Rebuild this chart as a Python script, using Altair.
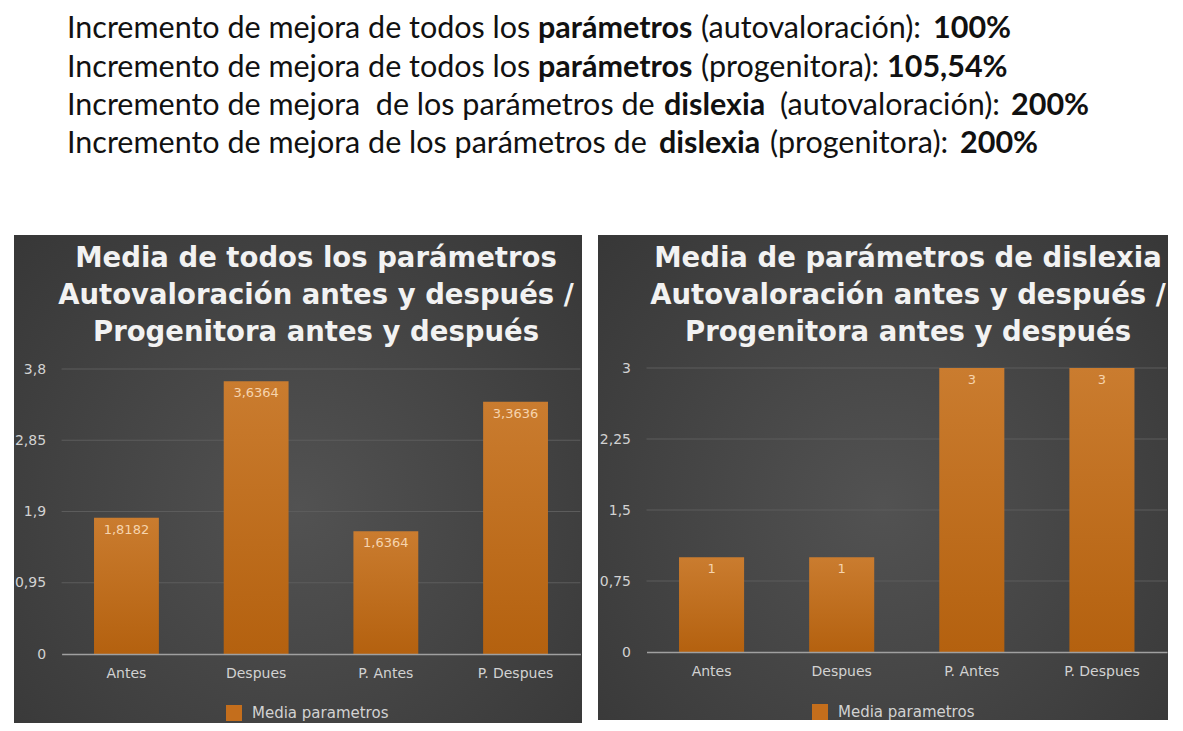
import altair as alt
import pandas as pd

# ---------------- data ----------------
categorias = ["Antes", "Despues", "P. Antes", "P. Despues"]
media_todos = [1.8182, 3.6364, 1.6364, 3.3636]
media_dislexia = [1, 1, 3, 3]
serie = "Media parametros"
ticks_todos = [0, 0.95, 1.9, 2.85, 3.8]
ticks_dislexia = [0, 0.75, 1.5, 2.25, 3]
titulo_todos = ["Media de todos los parámetros",
                "Autovaloración antes y después /",
                "Progenitora antes y después"]
titulo_dislexia = ["Media de parámetros de dislexia",
                   "Autovaloración antes y después /",
                   "Progenitora antes y después"]
texto_lineas = [
    [("Incremento de mejora de todos los", "normal"), ("parámetros", "bold"),
     ("(autovaloración):", "normal"), ("100%", "bold")],
    [("Incremento de mejora de todos los", "normal"), ("parámetros", "bold"),
     ("(progenitora):", "normal"), ("105,54%", "bold")],
    [("Incremento de mejora\u00a0 de los parámetros de", "normal"), ("dislexia", "bold"),
     ("(autovaloración):", "normal"), ("200%", "bold")],
    [("Incremento de mejora de los parámetros de", "normal"), ("dislexia", "bold"),
     ("(progenitora):", "normal"), ("200%", "bold")],
]

# ---------------- layout (pixels) ----------------
seg_x = [[67, 538, 701, 933], [67, 538, 701, 887],
         [67, 664, 780, 1011], [67, 659, 770, 960]]
line_y = [38, 77, 115, 153]
TOP_H = 235
PANEL_H = 488

AXIS_FONT = "DejaVu Sans"
LABEL_COLOR = "#d2d2d2"

grad_bg = alt.RadialGradient(
    gradient="radial",
    stops=[alt.GradientStop(offset=0, color="#525252"),
           alt.GradientStop(offset=1, color="#353535")],
    x1=0.5, y1=0.55, x2=0.5, y2=0.55, r1=0, r2=0.75)
grad_bar = alt.LinearGradient(
    gradient="linear",
    stops=[alt.GradientStop(offset=0, color="#ca7c2f"),
           alt.GradientStop(offset=1, color="#b4610f")],
    x1=0, x2=0, y1=0, y2=1)

one = alt.Data(values=[{"k": 0}])


def panel(valores, ticks, titulo, W, bg, xr, yr, title_cx, leg_xy):
    df = pd.DataFrame({"categoria": categorias, "valor": valores, "serie": serie})
    xenc = alt.X("categoria:N", sort=categorias,
                 scale=alt.Scale(range=xr, paddingInner=0.5, paddingOuter=0.25),
                 axis=alt.Axis(offset=-(PANEL_H - yr[0]), labelAngle=0, ticks=False,
                               domainColor="#a0a0a0", domainWidth=1.5,
                               labelColor=LABEL_COLOR, labelFont=AXIS_FONT,
                               labelFontSize=14, labelPadding=12, title=None, zindex=1))

    def ych(field):
        return alt.Y(f"{field}:Q",
                     scale=alt.Scale(domain=[0, ticks[-1]], range=yr, nice=False, zero=True),
                     axis=alt.Axis(values=ticks, offset=-xr[0], grid=False, ticks=False,
                                   domain=False,
                                   labelExpr="replace(format(datum.value, '.2~f'), '.', ',')",
                                   labelColor=LABEL_COLOR, labelFont=AXIS_FONT,
                                   labelFontSize=14, labelPadding=16, title=None, zindex=1))

    fondo = alt.Chart(one).mark_rect(fill=grad_bg).encode(
        x=alt.value(bg[0]), x2=alt.value(bg[1]), y=alt.value(0), y2=alt.value(bg[2]))
    grid = alt.Chart(pd.DataFrame({"t": ticks[1:]})).mark_rule(
        color="#5c5c5c", strokeWidth=1).encode(
        y=ych("t"), x=alt.value(xr[0]), x2=alt.value(xr[1]))
    base = alt.Chart(df)
    barras = base.mark_bar(fill=grad_bar).encode(x=xenc, y=ych("valor"))
    leyenda = base.mark_bar(opacity=0).encode(
        x=xenc, y=ych("valor"),
        color=alt.Color("serie:N", scale=alt.Scale(range=["#c46e1c"]),
                        legend=alt.Legend(orient="none", legendX=leg_xy[0], legendY=leg_xy[1],
                                          title=None, symbolType="square", symbolSize=256,
                                          symbolOpacity=1, symbolStrokeWidth=0,
                                          labelColor=LABEL_COLOR, labelFont=AXIS_FONT,
                                          labelFontSize=15, labelOffset=10, zindex=1)))
    etiquetas = base.transform_calculate(
        lbl="replace(format(datum.valor, '.4~f'), '.', ',')"
    ).mark_text(baseline="top", dy=6, color="#f6d4ae", font=AXIS_FONT, fontSize=13).encode(
        x=xenc, y=ych("valor"), text="lbl:N")
    tit = alt.Chart(one).mark_text(
        text=titulo, align="center", baseline="alphabetic", lineHeight=37,
        font="DejaVu Sans", fontWeight="bold", fontSize=27.5, color="#f2f2f2").encode(
        x=alt.value(title_cx), y=alt.value(32))
    return alt.layer(fondo, grid, barras, leyenda, etiquetas, tit).properties(
        width=W, height=PANEL_H)


izq = panel(media_todos, ticks_todos, titulo_todos, 590, (14, 582, 488),
            [61.6, 580.4], [419, 134], 316, (226, 470))
der = panel(media_dislexia, ticks_dislexia, titulo_dislexia, 593, (8, 578, 485),
            [56.5, 577], [417, 133], 318, (222, 469))

capas = []
for i, linea in enumerate(texto_lineas):
    for j, (seg, peso) in enumerate(linea):
        capas.append(alt.Chart(one).mark_text(
            text=seg, align="left", baseline="alphabetic", font="Lato", fontSize=30.5,
            fontWeight=peso, color="#111111").encode(
            x=alt.value(seg_x[i][j]), y=alt.value(line_y[i])))
arriba = alt.layer(*capas).properties(width=1183, height=TOP_H)

fila = alt.hconcat(izq, der, spacing=0).resolve_scale(
    color="independent").resolve_legend(color="independent")

chart = alt.vconcat(arriba, fila, spacing=0).properties(
    padding=0, background="white").configure_view(stroke=None)

chart.save("out.html", embed_options={"renderer": "svg", "actions": False})
